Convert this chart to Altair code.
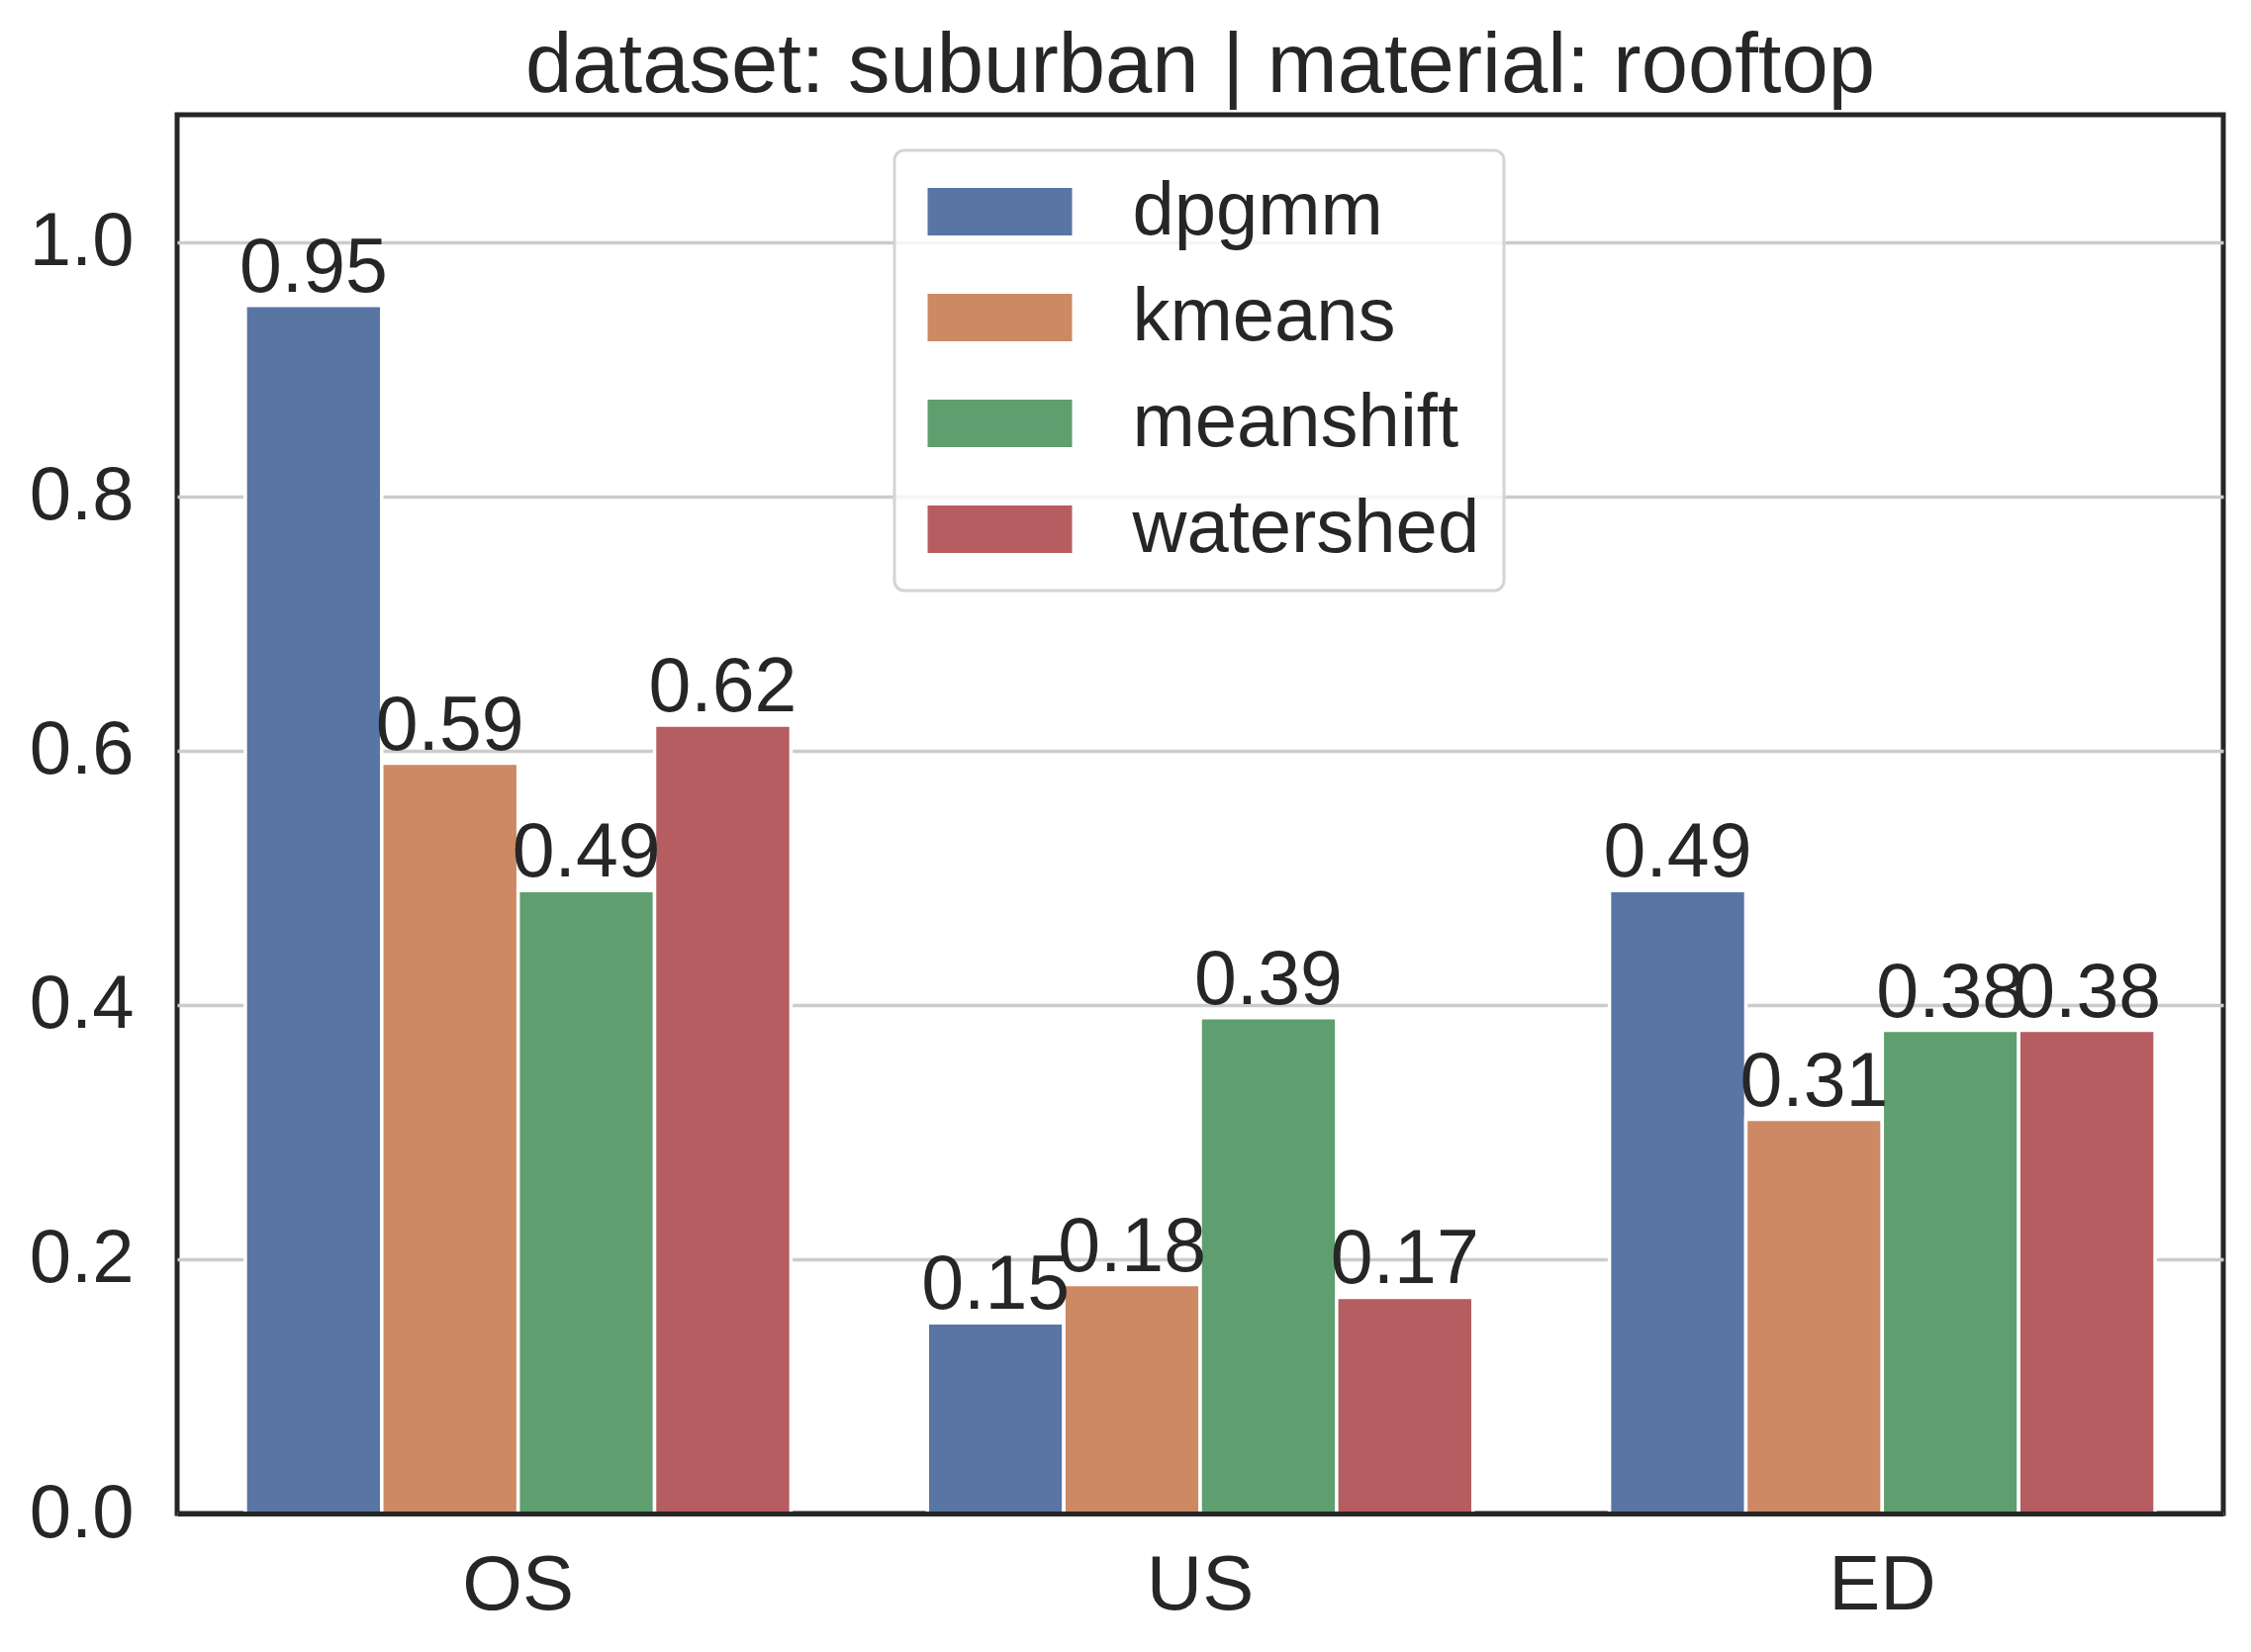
import altair as alt
import pandas as pd

groups = ["OS", "US", "ED"]
methods = ["dpgmm", "kmeans", "meanshift", "watershed"]
colors = ["#5875A4", "#CC8963", "#5F9E6E", "#B55D60"]
values = {
    "OS": [0.95, 0.59, 0.49, 0.62],
    "US": [0.15, 0.18, 0.39, 0.17],
    "ED": [0.49, 0.31, 0.38, 0.38],
}
y_ticks = [0.0, 0.2, 0.4, 0.6, 0.8, 1.0]
title_text = "dataset: suburban | material: rooftop"

rows = []
for g in groups:
    for m, v in zip(methods, values[g]):
        rows.append({"group": g, "method": m, "value": v})
df = pd.DataFrame(rows)

FONT = "Liberation Sans, Arial, sans-serif"
INK = "#262626"

x_enc = alt.X("group:N", sort=groups, title=None,
              scale=alt.Scale(paddingInner=0.2, paddingOuter=0.1),
              axis=alt.Axis(labelAngle=0, labelFontSize=78, labelColor=INK, labelFont=FONT,
                            ticks=False, tickSize=0, domain=True, domainColor=INK,
                            domainWidth=5, zindex=1, labelPadding=34))
xoff = alt.XOffset("method:N", sort=methods, scale=alt.Scale(paddingInner=0, paddingOuter=0))
y_enc = alt.Y("value:Q", title=None,
              scale=alt.Scale(domain=[0, 1.1], nice=False, zero=True),
              axis=alt.Axis(values=y_ticks, format=".1f", labelFontSize=76, labelColor=INK,
                            labelFont=FONT, ticks=False, tickSize=0, domain=False,
                            labelPadding=44, grid=True, gridColor="#cccccc", gridWidth=3.3))

bars = alt.Chart(df).mark_bar(stroke="white", strokeWidth=3.5).encode(
    x=x_enc,
    xOffset=xoff,
    y=y_enc,
    color=alt.Color("method:N", sort=methods,
                    scale=alt.Scale(domain=methods, range=colors),
                    legend=alt.Legend(title=None, orient="none", legendX=725, legendY=36,
                                      symbolType="M-2,-0.66H2V0.66H-2Z", symbolSize=5329,
                                      symbolStrokeWidth=0, symbolOffset=44.5,
                                      labelFontSize=76, labelFont=FONT, labelColor=INK,
                                      labelLimit=0, labelOffset=96, padding=24, rowPadding=31,
                                      fillColor="rgba(255,255,255,0.8)", strokeColor="#d4d4d4",
                                      cornerRadius=10)),
)

labels = alt.Chart(df).mark_text(baseline="bottom", align="center", fontSize=77,
                                 font=FONT, color=INK, dy=2).encode(
    x=alt.X("group:N", sort=groups),
    xOffset=alt.XOffset("method:N", sort=methods),
    y=alt.Y("value:Q"),
    text=alt.Text("value:Q", format=".2f"),
)

chart = alt.layer(bars, labels).properties(
    width=2068, height=1414,
    title=alt.TitleParams(title_text, fontSize=85, font=FONT, color=INK, fontWeight="normal",
                          anchor="middle", baseline="bottom", offset=-80, frame="group"),
    autosize=alt.AutoSizeParams(type="none"),
    padding={"left": 171, "top": 108, "right": 20, "bottom": 132},
).configure_view(stroke=INK, strokeWidth=5).configure_legend(strokeWidth=3)

chart.save("out.html", embed_options={"renderer": "svg", "actions": False})
